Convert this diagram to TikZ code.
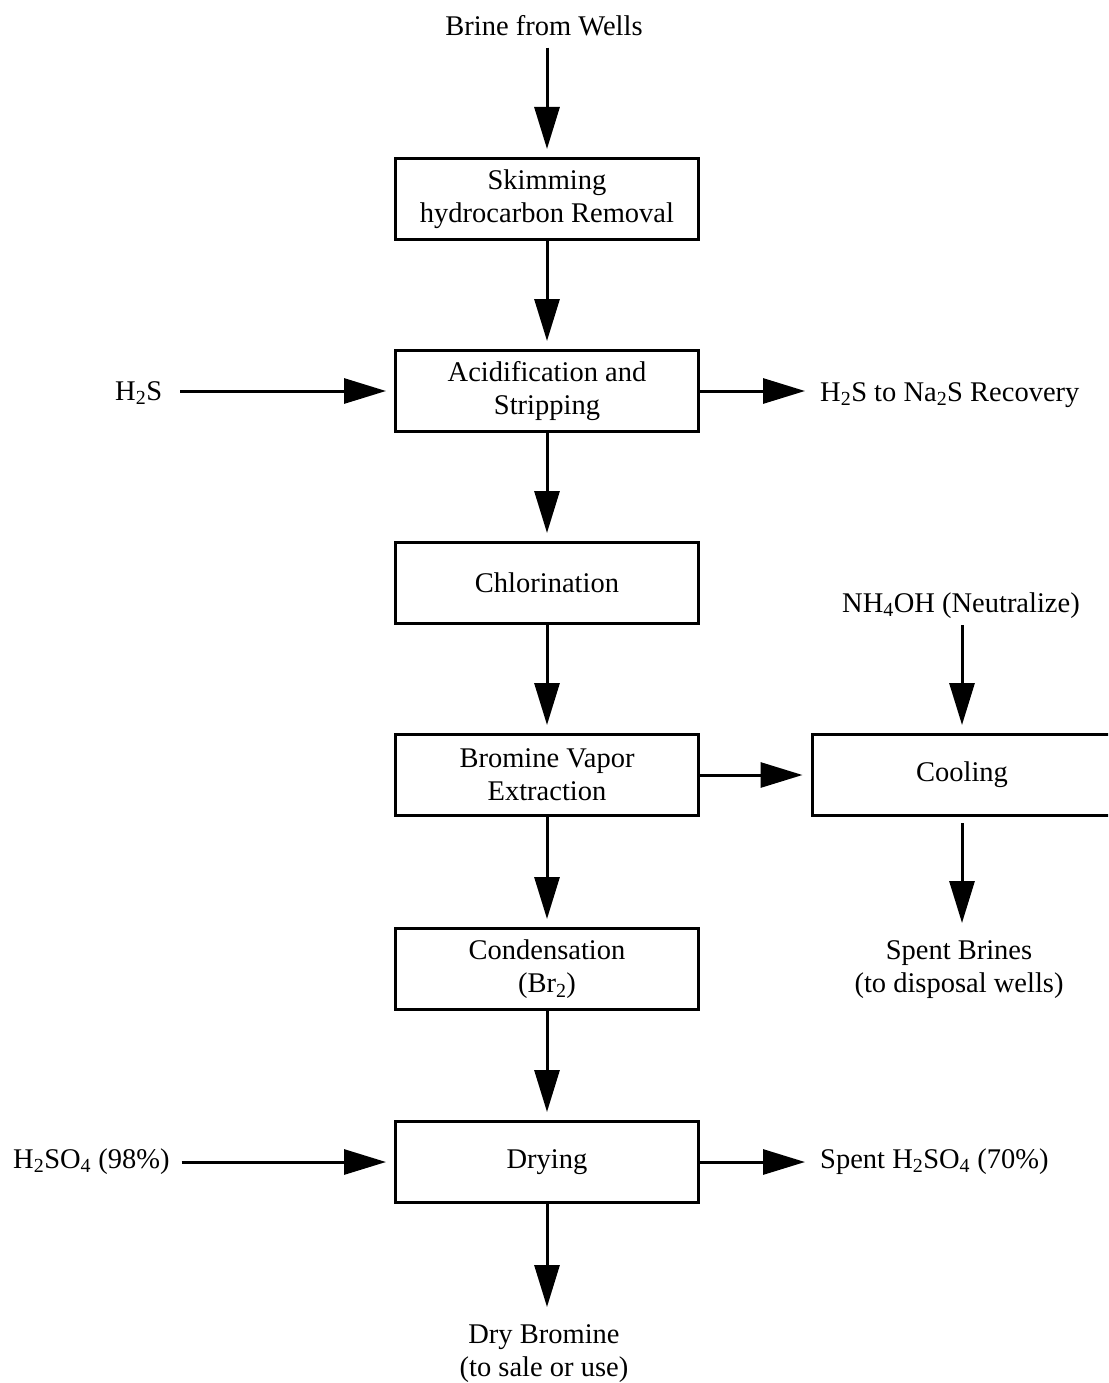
\documentclass[tikz,border=0pt]{standalone}
\usepackage{fontspec}
\setmainfont{Liberation Serif}
\usetikzlibrary{arrows.meta}
\begin{document}
\begin{tikzpicture}[x=1pt,y=-1pt,
  every node/.style={font=\fontsize{28.5}{33}\selectfont, inner sep=0pt},
  unit/.style={draw, line width=3pt, minimum width=303pt, minimum height=81pt, align=center},
  stream/.style={align=center},
  flow/.style={line width=3pt, -{Triangle[length=42pt,width=25pt]}, shorten >=8pt}
]
\useasboundingbox (0,0) rectangle (1108,1383);
\clip (0,0) rectangle (1108,1383);

% process units
\node[unit] (skim)  at (547,199)  {Skimming\\hydrocarbon Removal};
\node[unit] (acid)  at (547,391)  {Acidification and\\Stripping};
\node[unit] (chlor) at (547,583)  {Chlorination};
\node[unit] (bve)   at (547,775)  {Bromine Vapor\\Extraction};
\node[unit] (cond)  at (547,969)  {Condensation\\(Br\textsubscript{2})};
\node[unit] (dry)   at (547,1162) {Drying};
\node[unit, minimum width=300pt] (cool) at (962,775) {Cooling};

% feeds and products
\node[anchor=base] (brine) at (544,36) {Brine from Wells};
\node[anchor=base west] (h2sin) at (115,400) {H\textsubscript{2}S};
\node[anchor=base west] (h2sout) at (820,401) {H\textsubscript{2}S to Na\textsubscript{2}S Recovery};
\node[anchor=base] (nh4) at (961,612) {NH\textsubscript{4}OH (Neutralize)};
\node[stream, anchor=north] (brines) at (959,940) {Spent Brines\\(to disposal wells)};
\node[anchor=base west] (acidin) at (13,1168) {H\textsubscript{2}SO\textsubscript{4} (98\%)};
\node[anchor=base west] (acidout) at (820,1168) {Spent H\textsubscript{2}SO\textsubscript{4} (70\%)};
\node[stream, anchor=north] (drybr) at (544,1324) {Dry Bromine\\(to sale or use)};

% main line
\draw[flow, shorten <=11pt] (skim.north |- brine.south) -- (skim.north);
\draw[flow] (skim) -- (acid);
\draw[flow] (acid) -- (chlor);
\draw[flow] (chlor) -- (bve);
\draw[flow] (bve) -- (cond);
\draw[flow] (cond) -- (dry);
\draw[flow, shorten >=17pt] (dry.south) -- (dry.south |- drybr.north);

% side streams
\draw[flow, shorten <=18pt] (acid.west -| h2sin.east) -- (acid.west);
\draw[flow, shorten >=15pt] (acid.east) -- (acid.east -| h2sout.west);
\draw[flow] (bve) -- (cool);
\draw[flow, shorten <=7pt] (cool.north |- nh4.south) -- (cool.north);
\draw[flow, shorten <=6pt, shorten >=17pt] (cool.south) -- (cool.south |- brines.north);
\draw[flow, shorten <=12pt] (dry.west -| acidin.east) -- (dry.west);
\draw[flow, shorten >=15pt] (dry.east) -- (dry.east -| acidout.west);
\end{tikzpicture}
\end{document}
